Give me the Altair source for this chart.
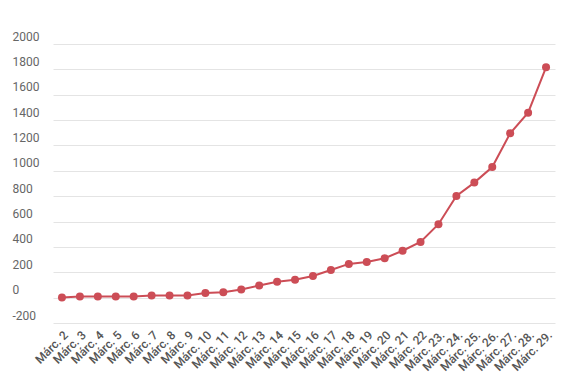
import altair as alt
import pandas as pd

days = ["Márc. 2", "Márc. 3", "Márc. 4", "Márc. 5", "Márc. 6", "Márc. 7", "Márc. 8",
        "Márc. 9", "Márc. 10", "Márc. 11", "Márc. 12", "Márc. 13", "Márc. 14",
        "Márc. 15", "Márc. 16", "Márc. 17", "Márc. 18", "Márc. 19", "Márc. 20",
        "Márc. 21", "Márc. 22", "Márc. 23.", "Márc. 24.", "Márc. 25.", "Márc. 26.",
        "Márc. 27.", "Márc. 28.", "Márc. 29."]
values = [2, 9, 9, 9, 9, 17, 17, 17, 36, 43, 65, 96, 125, 141, 171, 218, 266, 281,
          311, 370, 439, 579, 802, 907, 1030, 1296, 1458, 1816]
y_ticks = [-200, 0, 200, 400, 600, 800, 1000, 1200, 1400, 1600, 1800, 2000]

df = pd.DataFrame({"day": days, "value": values})
RED = "#cc4d56"

base = alt.Chart(df).encode(
    x=alt.X("day:N", sort=days, title=None,
            scale=alt.Scale(type="point", range=[41, 543]),
            axis=alt.Axis(labelAngle=-45, labelFont="Roboto", labelFontSize=12,
                          labelFontWeight=500, labelColor="#555555", ticks=False,
                          domain=False, grid=False, labelPadding=6)),
    y=alt.Y("value:Q", title=None,
            scale=alt.Scale(domain=[-200, 2000], nice=False, zero=False),
            axis=alt.Axis(values=y_ticks, ticks=False, domain=False, tickSize=0,
                          labelExpr="'' + datum.value",
                          labelAlign="left", labelBaseline="alphabetic",
                          labelOffset=-4, labelPadding=0, labelFont="Roboto",
                          labelFontSize=12, labelColor="#666666",
                          gridColor="#e4e4e4", gridWidth=1))
)

line = base.mark_line(color=RED, strokeWidth=2)
pts = base.mark_circle(color=RED, size=64, opacity=1)

chart = (line + pts).properties(
    width=553, height=279,
    autosize=alt.AutoSizeParams(type="none"),
    padding={"left": 12, "top": 44, "right": 10, "bottom": 64},
    background="white",
).configure_view(stroke=None)

chart.save("out.html", embed_options={"renderer": "svg", "actions": False})
